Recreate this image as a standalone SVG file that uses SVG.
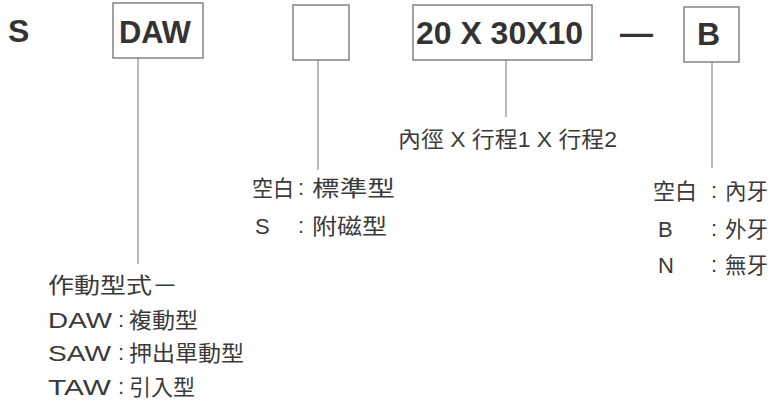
<svg xmlns="http://www.w3.org/2000/svg" width="774" height="408" viewBox="0 0 774 408">
<style>
.box{fill:#fff;stroke:#7a7a7a;stroke-width:1.4}
.code{font-family:"Liberation Sans",Arial,sans-serif;font-weight:bold;font-size:32px;fill:#333}
.lbl{font-family:"Liberation Sans","Noto Sans CJK TC",sans-serif;font-size:22px;fill:#3a3a3a}
.cjk{font-family:"Noto Sans CJK TC","Noto Sans CJK SC",sans-serif;font-size:22px;fill:#3a3a3a}
.conn line{stroke:#777;stroke-width:1}
</style>
<rect width="774" height="408" fill="#fff"/>
<g id="code-s"><text class="code" x="8" y="42" font-size="30">S</text></g>
<g id="box-daw"><rect class="box" x="113" y="3" width="90" height="55"/><text class="code" x="119" y="43" textLength="72" lengthAdjust="spacingAndGlyphs">DAW</text></g>
<g id="box-blank"><rect class="box" x="293" y="5" width="56" height="55"/></g>
<g id="box-size"><rect class="box" x="413" y="5" width="179" height="55"/><text class="code" x="416" y="44" textLength="167" lengthAdjust="spacingAndGlyphs">20 X 30X10</text></g>
<g id="dash"><text class="code" x="620" y="44" textLength="33" lengthAdjust="spacingAndGlyphs">—</text></g>
<g id="box-b"><rect class="box" x="684" y="7" width="55" height="55"/><text class="code" x="697" y="45">B</text></g>
<g id="connectors" class="conn">
<line x1="138" y1="58" x2="138" y2="264"/>
<line x1="318" y1="60" x2="318" y2="170"/>
<line x1="506" y1="60" x2="506" y2="117"/>
<line x1="712" y1="62" x2="712" y2="168"/>
</g>
<g id="label-size"><text class="lbl" x="398" y="147" font-size="21" textLength="219" lengthAdjust="spacingAndGlyphs">內徑 X 行程1 X 行程2</text></g>
<g id="label-magnet">
<text class="cjk" x="252" y="196" textLength="42" lengthAdjust="spacingAndGlyphs">空白</text>
<text class="lbl" x="298" y="195">:</text>
<text class="cjk" x="312" y="196" textLength="83" lengthAdjust="spacingAndGlyphs">標準型</text>
<text class="lbl" x="255" y="234" font-size="20">S</text>
<text class="lbl" x="298" y="233">:</text>
<text class="cjk" x="312" y="234" textLength="75" lengthAdjust="spacingAndGlyphs">附磁型</text>
</g>
<g id="label-action">
<text class="cjk" x="48" y="293" font-size="23" textLength="130" lengthAdjust="spacingAndGlyphs">作動型式－</text>
<text class="lbl" x="48" y="328" textLength="64" lengthAdjust="spacingAndGlyphs">DAW</text>
<text class="lbl" x="118" y="327">:</text>
<text class="cjk" x="129" y="328" textLength="69" lengthAdjust="spacingAndGlyphs">複動型</text>
<text class="lbl" x="48" y="361" textLength="63" lengthAdjust="spacingAndGlyphs">SAW</text>
<text class="lbl" x="118" y="360">:</text>
<text class="cjk" x="129" y="361" textLength="115" lengthAdjust="spacingAndGlyphs">押出單動型</text>
<text class="lbl" x="48" y="395" textLength="63" lengthAdjust="spacingAndGlyphs">TAW</text>
<text class="lbl" x="118" y="394">:</text>
<text class="cjk" x="129" y="395" textLength="66" lengthAdjust="spacingAndGlyphs">引入型</text>
</g>
<g id="label-thread">
<text class="cjk" x="653" y="199" textLength="44" lengthAdjust="spacingAndGlyphs">空白</text>
<text class="lbl" x="711" y="198">:</text>
<text class="cjk" x="725" y="199" textLength="43" lengthAdjust="spacingAndGlyphs">內牙</text>
<text class="lbl" x="658" y="237" font-size="19">B</text>
<text class="lbl" x="711" y="236">:</text>
<text class="cjk" x="725" y="237" textLength="43" lengthAdjust="spacingAndGlyphs">外牙</text>
<text class="lbl" x="658" y="273" font-size="19">N</text>
<text class="lbl" x="711" y="272">:</text>
<text class="cjk" x="725" y="273" textLength="43" lengthAdjust="spacingAndGlyphs">無牙</text>
</g>
</svg>
